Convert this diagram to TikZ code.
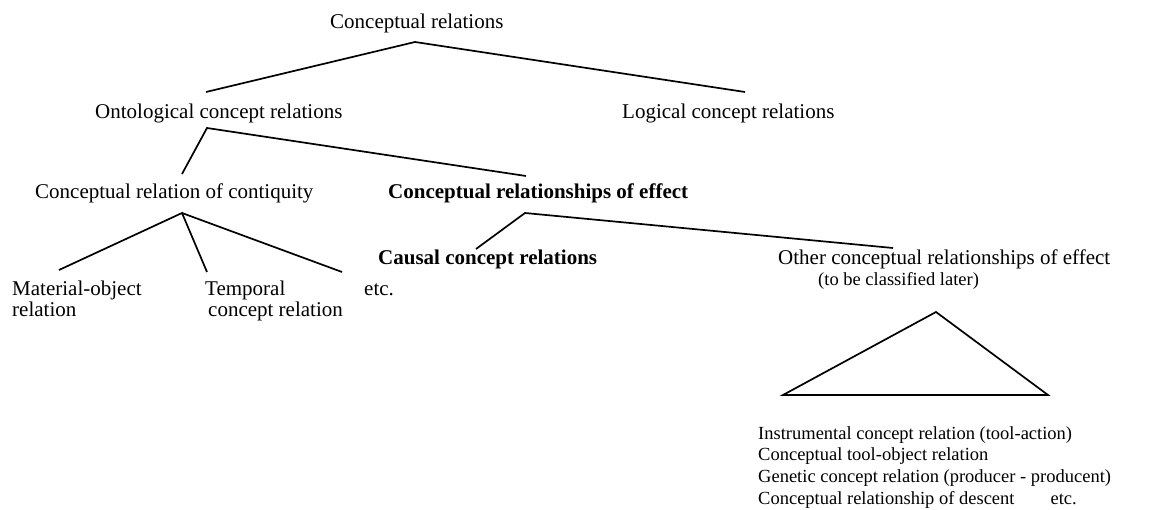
\documentclass[tikz,border=0pt]{standalone}
\usepackage{fontspec}
\setmainfont{Liberation Serif}
\begin{document}
\begin{tikzpicture}[x=1pt,y=-1pt,
  lbl/.style={inner sep=0pt, anchor=base west, font=\fontsize{21}{21}\selectfont},
  blbl/.style={lbl, font=\fontsize{21}{21}\selectfont\bfseries},
  slbl/.style={inner sep=0pt, anchor=base west, font=\fontsize{18.5}{21.6}\selectfont},
  conn/.style={draw=black, line width=1.7pt}]
\useasboundingbox (0,0) rectangle (1152,510);
% nodes
\node[lbl] (cr) at (330,29) {Conceptual relations};
\node[lbl] (ocr) at (95,119) {Ontological concept relations};
\node[lbl] (lcr) at (622,119) {Logical concept relations};
\node[lbl] (cont) at (35,199) {Conceptual relation of contiquity};
\node[blbl] (eff) at (388,199) {Conceptual relationships of effect};
\node[lbl, align=left] (mat) at (12,317) {Material-object\\relation};
\node[lbl, align=left] (temp) at (205,317) {Temporal\\\hspace*{3pt}concept relation};
\node[lbl] (etc1) at (364,296) {etc.};
\node[blbl] (caus) at (378,265) {Causal concept relations};
\node[lbl] (oth) at (778,265) {Other conceptual relationships of effect};
\node[slbl] (later) at (818,286) {(to be classified later)};
\node[slbl, align=left] (list) at (758,504) {Instrumental concept relation (tool-action)\\
Conceptual tool-object relation\\
Genetic concept relation (producer - producent)\\
Conceptual relationship of descent\hspace{36pt}etc.};
% connector points
\coordinate (crA) at (415,42);
\coordinate (crL) at (206,92);
\coordinate (crR) at (745,92);
\coordinate (ocrA) at (207,128);
\coordinate (ocrL) at (182,174);
\coordinate (ocrR) at (526,176);
\coordinate (contA) at (182,213);
\coordinate (matT) at (59,270);
\coordinate (tempT) at (207,272);
\coordinate (etcT) at (342,272);
\coordinate (effA) at (525,213);
\coordinate (causT) at (476,249);
\coordinate (othT) at (893,248);
\coordinate (triA) at (936,312);
\coordinate (triL) at (783,395);
\coordinate (triR) at (1048,395);
% connectors
\draw[conn] (crL) -- (crA) -- (crR);
\draw[conn] (ocrL) -- (ocrA) -- (ocrR);
\draw[conn] (matT) -- (contA) -- (tempT);
\draw[conn] (contA) -- (etcT);
\draw[conn] (causT) -- (effA) -- (othT);
\draw[conn] (triA) -- (triL) -- (triR) -- cycle;
\end{tikzpicture}
\end{document}
